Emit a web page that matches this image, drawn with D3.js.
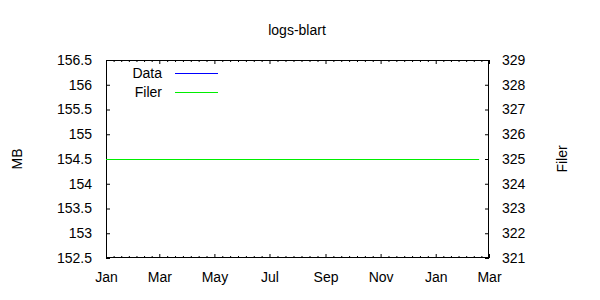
<!DOCTYPE html>
<html>
<head>
<meta charset="utf-8">
<script src="https://cdn.jsdelivr.net/npm/d3@7"></script>
<style>
  body { margin: 0; background: #fff; }
  svg text { font-family: "Liberation Sans", Arial, sans-serif; font-size: 14px; fill: #000; }
</style>
</head>
<body>
<svg width="600" height="300"></svg>
<script>
const dates = ["2009-01-01", "2009-04-01", "2009-07-01", "2009-10-01", "2010-01-01", "2010-02-18"];
const dataMB = [154.5, 154.5, 154.5, 154.5, 154.5, 154.5];
const filerVals = [325, 325, 325, 325, 325, 325];
const leftTicks = [152.5, 153, 153.5, 154, 154.5, 155, 155.5, 156, 156.5];
const rightTicks = [321, 322, 323, 324, 325, 326, 327, 328, 329];
const seriesNames = ["Data", "Filer"];
const colors = ["#0000ff", "#00ee00"];

const svg = d3.select("svg");
const margin = { top: 60, right: 111, bottom: 42, left: 106 };
const width = +svg.attr("width");
const height = +svg.attr("height");
const parse = d3.timeParse("%Y-%m-%d");

const x = d3.scaleTime()
    .domain([parse("2009-01-01"), parse("2010-03-01")])
    .range([margin.left, width - margin.right]);
const y = d3.scaleLinear().domain([152.5, 156.5]).range([height - margin.bottom, margin.top]);
const y2 = d3.scaleLinear().domain([321, 329]).range([height - margin.bottom, margin.top]);

const majorX = d3.timeMonth.every(2).range(x.domain()[0], d3.timeDay.offset(x.domain()[1], 1));
const minorX = [];
for (let i = 0; i < majorX.length - 1; i++) {
    const a = +majorX[i], b = +majorX[i + 1];
    for (let k = 1; k < 7; k++) minorX.push(new Date(a + (b - a) * k / 7));
}

// axes
svg.append("g")
    .attr("transform", `translate(0,${height - margin.bottom})`)
    .call(d3.axisBottom(x).tickValues(majorX).tickFormat(d3.timeFormat("%b")).tickSizeInner(-4).tickSizeOuter(0).tickPadding(14))
    .call(g => g.select(".domain").remove());
svg.append("g")
    .attr("transform", `translate(0,${height - margin.bottom})`)
    .call(d3.axisBottom(x).tickValues(minorX).tickFormat("").tickSizeInner(-2).tickSizeOuter(0))
    .call(g => g.select(".domain").remove());
svg.append("g")
    .attr("transform", `translate(0,${margin.top})`)
    .call(d3.axisTop(x).tickValues(majorX).tickFormat("").tickSizeInner(-4).tickSizeOuter(0))
    .call(g => g.select(".domain").remove());
svg.append("g")
    .attr("transform", `translate(0,${margin.top})`)
    .call(d3.axisTop(x).tickValues(minorX).tickFormat("").tickSizeInner(-2).tickSizeOuter(0))
    .call(g => g.select(".domain").remove());

svg.append("g")
    .attr("transform", `translate(${margin.left},0)`)
    .call(d3.axisLeft(y).tickValues(leftTicks).tickFormat(d3.format("")).tickSizeInner(-4).tickSizeOuter(0).tickPadding(14))
    .call(g => g.select(".domain").remove());
svg.append("g")
    .attr("transform", `translate(${width - margin.right},0)`)
    .call(d3.axisRight(y2).tickValues(rightTicks).tickSizeInner(-4).tickSizeOuter(0).tickPadding(13))
    .call(g => g.select(".domain").remove());

svg.selectAll(".tick text").style("font-size", "14px").attr("font-family", null);
svg.selectAll(".tick line").attr("stroke", "#000");

// frame
svg.append("rect")
    .attr("x", margin.left + 0.5)
    .attr("y", margin.top + 0.5)
    .attr("width", width - margin.left - margin.right - 1)
    .attr("height", height - margin.top - margin.bottom - 1)
    .attr("fill", "none")
    .attr("stroke", "#000");

// series
const pts = dates.map(parse);
const lineLeft = d3.line().x((d, i) => x(pts[i])).y(d => Math.round(y(d)) + 0.5);
const lineRight = d3.line().x((d, i) => x(pts[i])).y(d => Math.round(y2(d)) + 0.5);

svg.append("path").datum(dataMB)
    .attr("fill", "none").attr("stroke", colors[0]).attr("stroke-width", 1)
    .attr("d", lineLeft);
svg.append("path").datum(filerVals)
    .attr("fill", "none").attr("stroke", colors[1]).attr("stroke-width", 1)
    .attr("d", lineRight);

// legend
seriesNames.forEach((name, i) => {
    const ly = 73 + i * 19;
    svg.append("text")
        .attr("x", 162).attr("y", ly).attr("dy", "0.35em")
        .attr("text-anchor", "end")
        .text(name);
    svg.append("line")
        .attr("x1", 175).attr("x2", 218)
        .attr("y1", ly + 0.5).attr("y2", ly + 0.5)
        .attr("stroke", colors[i]);
});

// titles
svg.append("text")
    .attr("x", 297).attr("y", 30).attr("dy", "0.35em")
    .attr("text-anchor", "middle")
    .text("logs-blart");
svg.append("text")
    .attr("transform", "translate(17,159) rotate(-90)")
    .attr("dy", "0.35em")
    .attr("text-anchor", "middle")
    .text("MB");
svg.append("text")
    .attr("transform", "translate(562,159) rotate(-90)")
    .attr("dy", "0.35em")
    .attr("text-anchor", "middle")
    .text("Filer");
</script>
</body>
</html>
